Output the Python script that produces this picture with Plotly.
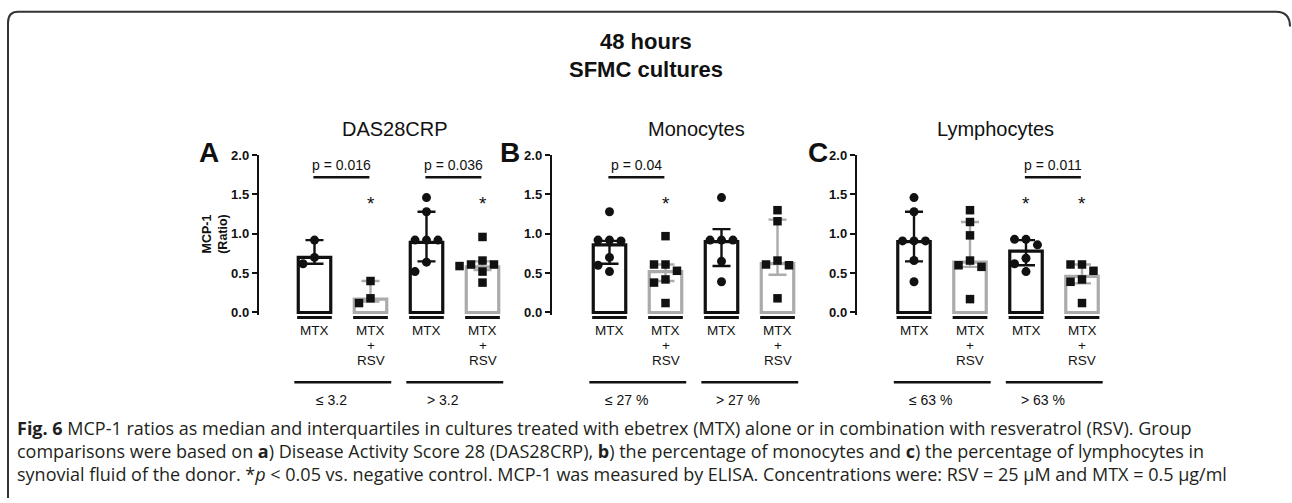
import math
import plotly.graph_objects as go

W, H = 1292, 503

# ---------------- data ----------------
categories = ["MTX", "MTX<br>+<br>RSV", "MTX", "MTX<br>+<br>RSV"]
panel_titles = ["DAS28CRP", "Monocytes", "Lymphocytes"]
panel_letters = ["A", "B", "C"]
group_labels = [["≤ 3.2", "> 3.2"], ["≤ 27 %", "> 27 %"], ["≤ 63 %", "> 63 %"]]
y_ticks = [0.0, 0.5, 1.0, 1.5, 2.0]

A_median = [0.70, 0.17, 0.89, 0.58]
A_q1 = [0.62, 0.14, 0.65, 0.54]
A_q3 = [0.92, 0.40, 1.28, 0.65]
A_points = [
    [0.92, 0.62, 0.70],
    [0.40, 0.18, 0.12],
    [1.46, 1.28, 0.92, 0.92, 0.92, 0.64, 0.52],
    [0.96, 0.66, 0.61, 0.61, 0.59, 0.52, 0.38],
]

B_median = [0.86, 0.52, 0.90, 0.62]
B_q1 = [0.62, 0.40, 0.59, 0.48]
B_q3 = [0.91, 0.61, 1.06, 1.18]
B_points = [
    [1.28, 0.92, 0.92, 0.91, 0.70, 0.60, 0.52],
    [0.97, 0.61, 0.61, 0.53, 0.42, 0.38, 0.12],
    [1.46, 0.92, 0.92, 0.92, 0.65, 0.39],
    [1.30, 1.16, 0.66, 0.61, 0.60, 0.18],
]

C_median = [0.90, 0.64, 0.78, 0.46]
C_q1 = [0.65, 0.58, 0.60, 0.37]
C_q3 = [1.28, 1.15, 0.92, 0.61]
C_points = [
    [1.46, 1.28, 0.91, 0.91, 0.91, 0.66, 0.39],
    [1.30, 1.15, 0.98, 0.66, 0.60, 0.58, 0.17],
    [0.93, 0.93, 0.86, 0.69, 0.62, 0.52],
    [0.61, 0.61, 0.53, 0.42, 0.39, 0.12],
]

# comparisons: (left bar, right bar, label)
A_pvals = [(0, 1, "p = 0.016"), (2, 3, "p = 0.036")]
B_pvals = [(0, 1, "p = 0.04")]
C_pvals = [(2, 3, "p = 0.011")]
A_stars = [1, 3]
B_stars = [1]
C_stars = [2, 3]

caption_lines = [
    "<b>Fig. 6</b> MCP-1 ratios as median and interquartiles in cultures treated with ebetrex (MTX) alone or in combination with resveratrol (RSV). Group",
    "comparisons were based on <b>a</b>) Disease Activity Score 28 (DAS28CRP), <b>b</b>) the percentage of monocytes and <b>c</b>) the percentage of lymphocytes in",
    "synovial fluid of the donor. *<i>p</i> &lt; 0.05 vs. negative control. MCP-1 was measured by ELISA. Concentrations were: RSV = 25 μM and MTX = 0.5 μg/ml",
]

panels = [
    (A_median, A_q1, A_q3, A_points, A_pvals, A_stars),
    (B_median, B_q1, B_q3, B_points, B_pvals, B_stars),
    (C_median, C_q1, C_q3, C_points, C_pvals, C_stars),
]

# ---------------- geometry ----------------
FONT = "Liberation Sans"
BLACK = "#111111"
GRAY = "#ababab"
UNIT = 56.0          # px per category
YPX = 79.0           # px per 1.0 ratio (as seen)
Y0_PX = 313.0        # pixel row of ratio 0
Y2_PX = 155.0        # pixel row of ratio 2
YMIN = -0.03
axis_px = [259, 552, 857]
first_center_px = [314.5, 609.5, 914.0]
XMAX = 3.6
VS, VOFF = 0.98, 6.3   # vertical correction observed in the rendered page


def px_x(p):
    return p / W


def px_y(p):
    return 1 - ((p - VOFF) / VS) / H


def swarm(vals, step=0.205, mind=10.0):
    order = sorted(range(len(vals)), key=lambda i: -vals[i])
    placed = []
    xs = [0.0] * len(vals)
    for i in order:
        v = vals[i]
        chosen = 0.0
        for k in [0, -1, 1, -2, 2, -3, 3]:
            dx = k * step
            ok = all(math.hypot((dx - px) * UNIT, (v - py) * YPX) >= mind for px, py in placed)
            if ok:
                chosen = dx
                break
        placed.append((chosen, v))
        xs[i] = chosen
    return xs


def ann(**kw):
    d = dict(showarrow=False, xanchor="center", yanchor="middle")
    d.update(kw)
    return d


fig = go.Figure()
annotations = []
shapes = []

for p, (med, q1, q3, pts, pvals, stars) in enumerate(panels):
    xn = "" if p == 0 else str(p + 1)
    xa, ya = "x" + xn, "y" + xn
    xmin = -(first_center_px[p] - axis_px[p]) / UNIT
    xdom = [px_x(axis_px[p]), px_x(axis_px[p] + (XMAX - xmin) * UNIT)]
    ydom = [px_y(Y0_PX - YMIN * YPX), px_y(Y2_PX)]

    fig.update_layout(**{
        "xaxis" + xn: dict(domain=xdom, range=[xmin, XMAX], visible=False, anchor=ya),
        "yaxis" + xn: dict(
            domain=ydom, range=[YMIN, 2.0], anchor=xa,
            showgrid=False, zeroline=False, showline=True, linewidth=2.4, linecolor=BLACK,
            ticks="outside", ticklen=5, tickwidth=2, tickcolor=BLACK,
            tickvals=y_ticks, ticktext=[f"{t:.1f}" for t in y_ticks],
            tickfont=dict(family=FONT, size=13, color=BLACK, weight="bold"),
        ),
    })

    for idxs, col in (([0, 2], BLACK), ([1, 3], GRAY)):
        fig.add_trace(go.Bar(
            x=idxs, y=[med[i] for i in idxs], width=0.58,
            marker=dict(color="white", line=dict(color=col, width=3.2)),
            error_y=dict(type="data", symmetric=False,
                         array=[q3[i] - med[i] for i in idxs],
                         arrayminus=[med[i] - q1[i] for i in idxs],
                         color=col, thickness=2.4, width=9),
            xaxis=xa, yaxis=ya, showlegend=False, hoverinfo="skip",
        ))

    for j in range(4):
        offs = swarm(pts[j])
        fig.add_trace(go.Scatter(
            x=[j + o for o in offs], y=pts[j], mode="markers",
            marker=dict(symbol="circle" if j % 2 == 0 else "square",
                        size=9 if j % 2 == 0 else 8.5, color=BLACK),
            xaxis=xa, yaxis=ya, showlegend=False, hoverinfo="skip", cliponaxis=False,
        ))
        # short line under each bar
        shapes.append(dict(type="line", xref=xa, yref="paper", x0=j - 0.31, x1=j + 0.31,
                           y0=px_y(318), y1=px_y(318), line=dict(color=BLACK, width=3)))
        for k, part in enumerate(categories[j].split("<br>")):
            annotations.append(ann(xref=xa, yref="paper", x=j, y=px_y(331 + 15 * k),
                                   text=part, font=dict(family=FONT, size=13.5, color=BLACK)))

    for g in range(2):
        shapes.append(dict(type="line", xref=xa, yref="paper", x0=2 * g - 0.36, x1=2 * g + 1.37,
                           y0=px_y(383), y1=px_y(383), line=dict(color=BLACK, width=2.5)))
        annotations.append(ann(xref=xa, yref="paper", x=2 * g + 0.3, y=px_y(401),
                               text=group_labels[p][g],
                               font=dict(family=FONT, size=14, color=BLACK)))

    for (a, b, lab) in pvals:
        shapes.append(dict(type="line", xref=xa, yref=ya, x0=a - 0.02, x1=b - 0.02,
                           y0=1.72, y1=1.72, line=dict(color=BLACK, width=2.5)))
        annotations.append(ann(xref=xa, yref=ya, x=(a + b) / 2 - 0.02, y=1.87,
                               text=lab, font=dict(family=FONT, size=14, color=BLACK)))
    for s in stars:
        annotations.append(ann(xref=xa, yref=ya, x=s, y=1.38, text="*",
                               font=dict(family=FONT, size=19, color=BLACK)))

    # panel title and letter
    title_x = [395, 696, 995][p]
    annotations.append(ann(xref="paper", yref="paper", x=px_x(title_x), y=px_y(129),
                           text=panel_titles[p], font=dict(family=FONT, size=20, color=BLACK)))
    letter_x = [209, 510, 818][p]
    annotations.append(ann(xref="paper", yref="paper", x=px_x(letter_x), y=px_y(152),
                           text="<b>" + panel_letters[p] + "</b>",
                           font=dict(family=FONT, size=28, color=BLACK)))

# y-axis title (panel A only)
annotations.append(ann(xref="paper", yref="paper", x=px_x(215), y=px_y(234),
                       text="<b>MCP-1</b><br><b>(Ratio)</b>", textangle=-90,
                       font=dict(family=FONT, size=12.5, color=BLACK)))

# main title
annotations.append(ann(xref="paper", yref="paper", x=0.5, y=px_y(41),
                       text="<b>48 hours</b>", font=dict(family=FONT, size=22, color=BLACK)))
annotations.append(ann(xref="paper", yref="paper", x=0.5, y=px_y(69),
                       text="<b>SFMC cultures</b>", font=dict(family=FONT, size=22, color=BLACK)))

# caption
for k, line in enumerate(caption_lines):
    annotations.append(ann(xref="paper", yref="paper", x=px_x(15), y=px_y(429 + 23 * k),
                           xanchor="left", text=line,
                           font=dict(family="Open Sans", size=18, color="#231f20")))

# frame
border = ("M {l},{b} L {l},{t1} Q {l},{t} {l1},{t} L {r1},{t} Q {r},{t} {r},{t2}").format(
    l=px_x(8), b=0, t1=px_y(22), t=px_y(11), l1=px_x(18),
    r1=px_x(1276), r=px_x(1290), t2=px_y(26))
shapes.append(dict(type="path", xref="paper", yref="paper", path=border,
                   line=dict(color="#333333", width=2)))

fig.update_layout(
    width=W, height=H, autosize=False,
    margin=dict(l=0, r=0, t=0, b=0, pad=0),
    paper_bgcolor="white", plot_bgcolor="rgba(0,0,0,0)",
    barmode="overlay", showlegend=False,
    annotations=annotations, shapes=shapes,
)

fig.write_html("out.html")
